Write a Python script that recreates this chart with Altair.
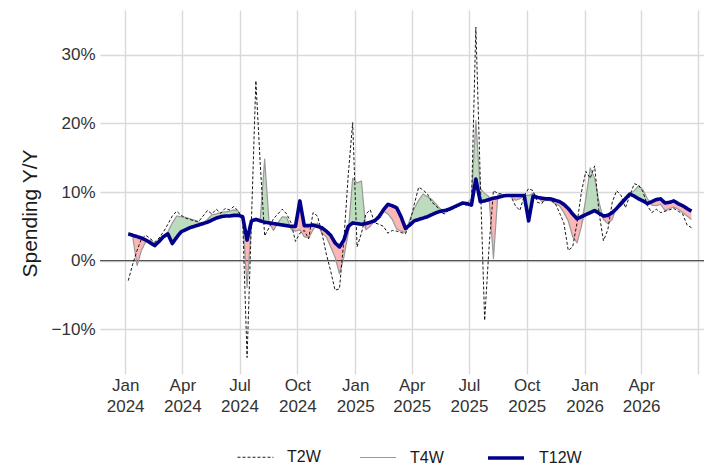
import altair as alt
import pandas as pd

# Weekly values (% Y/Y)
t2w = [-2.9, -0.5, 1.5, 3.2, 3.7, 3.2, 2.7, 3.3, 4.2, 5.3,
       6.5, 7.2, 6.6, 6.2, 6.0, 5.8, 5.7, 6.5, 7.3, 6.8,
       7.5, 6.9, 7.6, 7.4, 7.9, 7.2, 6.0, -14.1, 6.0, 26.2,
       14.0, 3.6, 4.8, 6.1, 6.8, 7.5, 6.8, 5.5, 2.8, 4.0,
       4.4, 3.2, 7.0, 6.5, 4.1, 1.0, -1.5, -4.3, -4.1, 3.0,
       12.5, 20.1, 2.0, 4.0, 6.8, 7.4, 5.5, 5.3, 5.0, 4.0,
       4.4, 4.3, 4.1, 3.9, 5.5, 8.2, 10.7, 10.3, 9.7, 8.5,
       8.0, 7.0, 6.8, 7.5, 7.6, 8.0, 8.3, 8.0, 8.2, 34.0,
       12.0, -8.7, 2.0, 10.2, 9.8, 9.7, 9.5, 9.3, 8.0, 7.3,
       9.5, 10.5, 10.2, 8.5, 8.3, 9.3, 8.8, 8.4, 7.0, 5.5,
       1.5, 2.0, 5.5, 10.0, 13.0, 12.0, 13.8, 7.0, 2.9, 4.5,
       8.5, 10.2, 9.5, 7.7, 9.5, 11.2, 11.0, 10.0, 8.0, 7.0,
       7.5, 7.0, 7.2, 7.4, 7.6, 7.2, 6.8, 5.2, 4.8]

t4w = [4.1, 3.5, -0.7, 1.5, 2.8, 3.0, 2.5, 3.0, 3.4, 4.2,
       5.5, 6.5, 6.4, 6.3, 6.1, 5.9, 5.6, 5.5, 6.0, 6.7,
       6.8, 7.0, 7.1, 7.2, 7.4, 7.2, 6.2, -3.9, 5.5, 6.2,
       6.0, 14.8, 5.6, 4.4, 5.5, 6.4, 6.3, 4.6, 4.3, 4.5,
       3.5, 3.3, 4.5, 5.5, 4.0, 3.5, 2.0, 0.5, -1.9, 0.5,
       4.0, 12.0, 11.3, 11.6, 4.5, 5.0, 5.9, 6.8, 7.2, 6.8,
       6.0, 4.6, 4.3, 4.1, 6.0, 7.6, 8.8, 9.7, 9.3, 8.9,
       8.2, 7.5, 7.4, 7.7, 7.9, 8.2, 8.5, 8.4, 9.0, 20.4,
       10.5, 9.8, 9.3, 0.3, 9.6, 9.5, 9.5, 9.3, 8.8, 9.0,
       9.5, 9.5, 9.8, 9.4, 8.6, 8.8, 8.7, 8.3, 8.0, 7.0,
       5.8, 3.5, 2.6, 5.0, 9.0, 13.5, 12.0, 8.5, 6.0, 5.4,
       6.0, 7.9, 8.7, 9.3, 9.7, 10.2, 10.9, 10.3, 9.0, 8.1,
       8.0, 8.2, 7.3, 7.6, 7.8, 7.5, 7.0, 6.5, 6.0]

t12w = [3.9, 3.7, 3.5, 3.3, 3.0, 2.6, 2.2, 2.8, 3.5, 3.9,
        2.5, 3.4, 4.2, 4.5, 4.8, 5.0, 5.2, 5.4, 5.6, 5.9,
        6.2, 6.4, 6.5, 6.5, 6.6, 6.6, 6.4, 3.0, 5.8, 6.0,
        5.8, 5.6, 5.5, 5.4, 5.3, 5.2, 5.1, 5.0, 5.0, 8.7,
        5.1, 5.1, 5.2, 5.0, 4.8, 4.3, 3.7, 2.6, 2.0, 3.0,
        5.0, 5.5, 5.4, 5.3, 5.4, 5.6, 5.8, 6.4, 7.4, 8.2,
        8.0, 7.7, 6.4, 4.7, 5.2, 5.8, 6.0, 6.2, 6.4, 6.7,
        7.0, 7.2, 7.3, 7.5, 7.8, 8.1, 8.4, 8.3, 8.1, 11.9,
        8.6, 8.7, 8.9, 9.1, 9.2, 9.4, 9.5, 9.5, 9.5, 9.5,
        9.5, 5.8, 9.4, 9.2, 9.1, 9.0, 9.0, 8.8, 8.6, 8.2,
        7.6, 6.8, 6.1, 6.4, 6.7, 7.0, 7.3, 6.9, 6.5, 6.6,
        7.0, 7.6, 8.3, 9.0, 9.7, 9.4, 9.0, 8.7, 8.3, 8.6,
        8.9, 9.0, 8.4, 8.5, 8.7, 8.3, 8.0, 7.6, 7.2]

series = ["T2W", "T4W", "T12W"]
series_colors = ["#000000", "#999999", "#00008B"]
y_ticks = [-10, 0, 10, 20, 30]

dates = pd.date_range("2024-01-06", periods=len(t12w), freq="7D")
df = pd.DataFrame({
    "date": dates.strftime("%Y-%m-%d"),
    "T2W": t2w,
    "T4W": t4w,
    "T12W": t12w,
})

FONT = "Liberation Sans"

xscale = alt.Scale(
    type="utc",
    domain=[alt.DateTime(year=2023, month=11, date=22, utc=True),
            alt.DateTime(year=2026, month=7, date=10, utc=True)],
    nice=False,
)
yscale = alt.Scale(domain=[-16.5, 36.5], nice=False, zero=False)

tick_dates = [alt.DateTime(year=yr, month=m, date=1, utc=True)
              for yr in (2024, 2025, 2026) for m in (1, 4, 7, 10)
              if not (yr == 2026 and m == 10)]

xaxis = alt.Axis(
    values=tick_dates,
    labelExpr=("(utcyear(datum.value) == 2026 && utcmonth(datum.value) == 6) ? '' : "
               "[utcFormat(datum.value, '%b'), utcFormat(datum.value, '%Y')]"),
    title=None,
    labelFontSize=17,
    labelLineHeight=21,
    labelPadding=3,
    labelBaseline="top",
    labelFlush=False,
    labelOverlap=False,
)
yaxis = alt.Axis(
    values=y_ticks,
    labelExpr="datum.label + '%'",
    title="Spending Y/Y",
    titleFontSize=21,
    titleFontWeight="normal",
    titleColor="#1a1a1a",
    titleX=-70,
    titleY=203,
    titleAlign="center",
    titleBaseline="middle",
    labelFontSize=17,
    labelPadding=5,
)

X = alt.X("date:T", scale=xscale, axis=xaxis)


def Y(field):
    return alt.Y(field, scale=yscale, axis=yaxis)


base = alt.Chart(df)

green = base.transform_calculate(
    top="max(datum.T4W, datum.T12W)"
).mark_area(color="#bddcbd", interpolate="linear").encode(
    x=X,
    y=Y("T12W:Q"),
    y2="top:Q",
)

red = base.transform_calculate(
    bot="min(datum.T4W, datum.T12W)"
).mark_area(color="#fbb6b6", interpolate="linear").encode(
    x=X,
    y=Y("bot:Q"),
    y2="T12W:Q",
)

zero = base.transform_aggregate(
    n="count()"
).transform_calculate(
    zero="0"
).mark_rule(color="black", strokeWidth=0.8).encode(y=Y("zero:Q"))

legend = alt.Legend(
    title=None,
    orient="none",
    legendX=137,
    legendY=428,
    direction="horizontal",
)

color_enc = alt.Color("series:N",
                      scale=alt.Scale(domain=series, range=series_colors),
                      legend=legend)
dash_enc = alt.StrokeDash("series:N",
                          scale=alt.Scale(domain=series, range=[[3, 2], [1, 0], [1, 0]]),
                          legend=legend)
width_enc = alt.StrokeWidth("series:N",
                            scale=alt.Scale(type="ordinal", domain=series,
                                            range=[0.9, 1.2, 3.6]),
                            legend=legend)


def line_layer(name):
    return base.transform_fold(
        series, as_=["series", "value"]
    ).transform_filter(
        alt.datum.series == name
    ).mark_line(interpolate="linear", strokeJoin="round").encode(
        x=X,
        y=Y("value:Q"),
        color=color_enc,
        strokeDash=dash_enc,
        strokeWidth=width_enc,
    )


chart = alt.layer(
    green, red, zero, line_layer("T4W"), line_layer("T2W"), line_layer("T12W")
).properties(
    width=604,
    height=364,
    autosize=alt.AutoSizeParams(type="none"),
    padding={"left": 92, "top": 2, "right": 0, "bottom": 93},
).configure_view(
    stroke=None
).configure_axis(
    labelFont=FONT,
    titleFont=FONT,
    labelColor="#333333",
    gridColor="#d9d9d9",
    gridWidth=1.4,
    domain=False,
    ticks=False,
).configure_legend(
    labelFont=FONT,
    labelFontSize=16,
    labelColor="#1a1a1a",
    symbolType="stroke",
    symbolSize=1296,
    labelOffset=13,
    columnPadding=36,
    padding=0,
)

chart.save("out.html", embed_options={"renderer": "svg", "actions": False})
